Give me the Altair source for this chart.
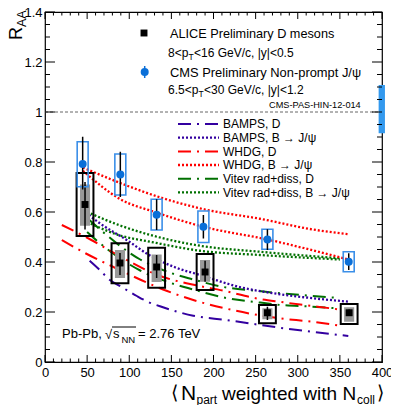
import altair as alt
import pandas as pd

FONT = "Liberation Sans"
W, H = 337, 350          # plot area in px
PX, PY = 45, 12          # page position of plot origin (for annotation placement)

# ---------------- data ----------------
x_ticks_major = [0, 50, 100, 150, 200, 250, 300, 350, 400]
y_ticks_major = [0, 0.2, 0.4, 0.6, 0.8, 1.0, 1.2, 1.4]

alice_n = [47.5, 89, 132.5, 190, 264, 361]
alice_r = [0.63, 0.396, 0.38, 0.36, 0.197, 0.197]
alice_stat_lo = [0.53, 0.348, 0.336, 0.321, 0.168, 0.185]
alice_stat_hi = [0.72, 0.436, 0.428, 0.405, 0.221, 0.21]
alice_sys_lo = [0.504, 0.315, 0.297, 0.288, 0.155, 0.152]
alice_sys_hi = [0.756, 0.475, 0.457, 0.432, 0.228, 0.232]
alice_fd_lo = [0.545, 0.336, 0.32, 0.321, 0.171, 0.161]
alice_fd_hi = [0.71, 0.448, 0.43, 0.408, 0.215, 0.219]

cms_n = [44.7, 89.4, 132.5, 188, 264, 360.5]
cms_r = [0.792, 0.75, 0.589, 0.541, 0.49, 0.401]
cms_stat_lo = [0.69, 0.66, 0.528, 0.494, 0.448, 0.368]
cms_stat_hi = [0.901, 0.841, 0.651, 0.588, 0.531, 0.435]
cms_sys_lo = [0.701, 0.668, 0.528, 0.478, 0.451, 0.361]
cms_sys_hi = [0.881, 0.832, 0.651, 0.604, 0.531, 0.441]
cms_global_lo, cms_global_hi = 0.915, 1.108

bamps_d_n = [53, 65, 77, 91, 109, 122, 140, 176, 215, 279, 310, 360]
bamps_d_r = [0.405, 0.368, 0.328, 0.300, 0.264, 0.241, 0.219, 0.185, 0.168, 0.137, 0.124, 0.104]
bamps_b_n = [52, 65, 97, 125, 155, 184, 231, 267, 300, 361]
bamps_b_r = [0.588, 0.555, 0.488, 0.425, 0.378, 0.348, 0.300, 0.277, 0.262, 0.241]
whdg_d_hi_n = [20, 55, 80, 140, 175, 215, 250, 280, 315, 350]
whdg_d_hi_r = [0.548, 0.488, 0.44, 0.34, 0.31, 0.283, 0.255, 0.24, 0.225, 0.21]
whdg_d_lo_n = [20, 48, 80, 145, 176, 212, 280, 315, 350]
whdg_d_lo_r = [0.488, 0.435, 0.382, 0.284, 0.248, 0.216, 0.174, 0.162, 0.145]
whdg_b_hi_n = [45, 90, 140, 190, 255, 318, 360]
whdg_b_hi_r = [0.778, 0.715, 0.655, 0.61, 0.573, 0.530, 0.511]
whdg_b_lo_n = [45, 89, 132, 188, 264, 360]
whdg_b_lo_r = [0.765, 0.652, 0.598, 0.541, 0.49, 0.41]
vitev_d_hi_n = [52, 62, 113, 146, 176, 212, 250, 280, 315, 345]
vitev_d_hi_r = [0.57, 0.54, 0.41, 0.36, 0.33, 0.30, 0.285, 0.275, 0.265, 0.257]
vitev_d_lo_n = [50, 60, 113, 146, 176, 212, 250, 280, 315, 345]
vitev_d_lo_r = [0.52, 0.49, 0.366, 0.32, 0.29, 0.258, 0.24, 0.228, 0.222, 0.215]
vitev_b_hi_n = [50, 90, 125, 184, 255, 350]
vitev_b_hi_r = [0.60, 0.545, 0.508, 0.465, 0.441, 0.415]
vitev_b_lo_n = [50, 90, 125, 184, 255, 350]
vitev_b_lo_r = [0.56, 0.505, 0.481, 0.445, 0.428, 0.41]

legend_labels = ["BAMPS, D", "BAMPS, B \u2192 J/\u03c8", "WHDG, D", "WHDG, B \u2192 J/\u03c8",
                 "Vitev rad+diss, D", "Vitev rad+diss, B \u2192 J/\u03c8"]

# ---------------- styles ----------------
INDIGO = "#3300a0"
RED = "#ff0000"
GREEN = "#007000"
CMS_BLUE = "#0a6fd8"
CMS_BOX = "#3b8fe8"
DASHDOT = [13, 6, 2, 6]
DOT = [2, 2]

xs = alt.Scale(domain=[0, 400], nice=False, zero=False)
ys = alt.Scale(domain=[0, 1.4], nice=False, zero=False)
XAX = alt.Axis(values=x_ticks_major, ticks=False, domain=False, grid=False, labelFont=FONT, labelFontSize=13,
               labelPadding=4, labelFlush=False, labelOverlap=False, labelColor="black", title=None)
YAX = alt.Axis(values=y_ticks_major, format="~g", ticks=False, domain=False, grid=False, labelFont=FONT,
               labelFontSize=13, labelPadding=3, labelFlush=False, labelOverlap=False, labelColor="black",
               title=None)
ONE = alt.Data(values=[{"a": 1}])


def X(f):
    return alt.X(f, scale=xs, axis=XAX)


def Y(f):
    return alt.Y(f, scale=ys, axis=YAX)


layers = []

# reference line at 1
ref = pd.DataFrame({"x": [0], "x2": [400], "y": [1.0]})
layers.append(alt.Chart(ref).mark_rule(color="#666666", strokeDash=[3, 2], strokeWidth=1).encode(
    x=X("x:Q"), x2="x2:Q", y=Y("y:Q")))


def curve(bands, color, dash, width):
    rows = []
    for b, (ns, rs) in enumerate(bands):
        for n, r in zip(ns, rs):
            rows.append({"band": b, "N": n, "R": r})
    return alt.Chart(pd.DataFrame(rows)).mark_line(
        color=color, strokeDash=dash, strokeWidth=width, interpolate="monotone"
    ).encode(x=X("N:Q"), y=Y("R:Q"), detail="band:N", order="N:Q")


layers += [
    curve([(vitev_b_hi_n, vitev_b_hi_r), (vitev_b_lo_n, vitev_b_lo_r)], GREEN, DOT, 2.3),
    curve([(vitev_d_hi_n, vitev_d_hi_r), (vitev_d_lo_n, vitev_d_lo_r)], GREEN, DASHDOT, 2),
    curve([(whdg_b_hi_n, whdg_b_hi_r), (whdg_b_lo_n, whdg_b_lo_r)], RED, DOT, 2.3),
    curve([(whdg_d_hi_n, whdg_d_hi_r), (whdg_d_lo_n, whdg_d_lo_r)], RED, DASHDOT, 2),
    curve([(bamps_b_n, bamps_b_r)], INDIGO, DOT, 2.3),
    curve([(bamps_d_n, bamps_d_r)], INDIGO, DASHDOT, 2),
]

# ALICE
adf = pd.DataFrame({"N": alice_n, "R": alice_r, "slo": alice_stat_lo, "shi": alice_stat_hi,
                    "ylo": alice_sys_lo, "yhi": alice_sys_hi, "flo": alice_fd_lo, "fhi": alice_fd_hi})
adf["xl"] = adf["N"] - 10
adf["xr"] = adf["N"] + 10
adf["gl"] = adf["N"] - 6
adf["gr"] = adf["N"] + 6
layers.append(alt.Chart(adf).mark_rect(color="#999999").encode(
    x=X("gl:Q"), x2="gr:Q", y=Y("flo:Q"), y2="fhi:Q"))
layers.append(alt.Chart(adf).mark_rect(fillOpacity=0, stroke="black", strokeWidth=2).encode(
    x=X("xl:Q"), x2="xr:Q", y=Y("ylo:Q"), y2="yhi:Q"))
layers.append(alt.Chart(adf).mark_rule(color="black", strokeWidth=1.5).encode(
    x=X("N:Q"), y=Y("slo:Q"), y2="shi:Q"))
layers.append(alt.Chart(adf).mark_point(shape="square", filled=True, color="black", size=48, opacity=1).encode(
    x=X("N:Q"), y=Y("R:Q")))

# CMS
cdf = pd.DataFrame({"N": cms_n, "R": cms_r, "slo": cms_stat_lo, "shi": cms_stat_hi,
                    "ylo": cms_sys_lo, "yhi": cms_sys_hi})
cdf["xl"] = cdf["N"] - 6.5
cdf["xr"] = cdf["N"] + 6.5
layers.append(alt.Chart(cdf).mark_rect(fillOpacity=0, stroke=CMS_BOX, strokeWidth=1.6).encode(
    x=X("xl:Q"), x2="xr:Q", y=Y("ylo:Q"), y2="yhi:Q"))
layers.append(alt.Chart(cdf).mark_rule(color="black", strokeWidth=1.5).encode(
    x=X("N:Q"), y=Y("slo:Q"), y2="shi:Q"))
layers.append(alt.Chart(cdf).mark_point(shape="circle", filled=True, color=CMS_BLUE, size=64, opacity=1).encode(
    x=X("N:Q"), y=Y("R:Q")))

# CMS global uncertainty box at the right edge
gdf = pd.DataFrame({"x": [396], "x2": [403.5], "y": [cms_global_lo], "y2": [cms_global_hi]})
layers.append(alt.Chart(gdf).mark_rect(color="#3399ee").encode(
    x=X("x:Q"), x2="x2:Q", y=Y("y:Q"), y2="y2:Q"))

# ---------------- ROOT-style inward ticks ----------------
y_minor = [round(i * 0.05, 2) for i in range(29) if i % 4]
x_minor = [v for v in range(0, 401, 10) if v % 50]


def yticks(vals, ln):
    df = pd.DataFrame({"v": vals})
    return [
        alt.Chart(df).mark_rule(color="black", strokeWidth=1).encode(x=alt.value(0), x2=alt.value(ln), y=Y("v:Q")),
        alt.Chart(df).mark_rule(color="black", strokeWidth=1).encode(x=alt.value(W - ln), x2=alt.value(W), y=Y("v:Q")),
    ]


def xticks(vals, ln):
    df = pd.DataFrame({"v": vals})
    return [
        alt.Chart(df).mark_rule(color="black", strokeWidth=1).encode(y=alt.value(H - ln), y2=alt.value(H), x=X("v:Q")),
        alt.Chart(df).mark_rule(color="black", strokeWidth=1).encode(y=alt.value(0), y2=alt.value(ln), x=X("v:Q")),
    ]


layers += yticks(y_ticks_major, 10) + yticks(y_minor, 5) + xticks(x_ticks_major, 7) + xticks(x_minor, 3.5)


# ---------------- annotations ----------------
def txt(s, x, y, size, **kw):
    return alt.Chart(ONE).mark_text(text=s, align="left", baseline="alphabetic", font=FONT,
                                    fontSize=size, color="black", **kw).encode(
        x=alt.value(x - PX), y=alt.value(y - PY))


# top legend
layers.append(alt.Chart(ONE).mark_point(shape="square", filled=True, color="black", size=48, opacity=1).encode(
    x=alt.value(144 - PX), y=alt.value(33 - PY)))
layers.append(txt("ALICE Preliminary D mesons", 170, 37.5, 12.7))
layers.append(txt("8<p", 168, 56.5, 12))
layers.append(txt("T", 188.5, 60, 8.5))
layers.append(txt("<16 GeV/c, |y|<0.5", 194, 56.5, 12))
layers.append(alt.Chart(ONE).mark_rule(color=CMS_BLUE, strokeWidth=1.5).encode(
    x=alt.value(144.7 - PX), y=alt.value(66 - PY), y2=alt.value(78 - PY)))
layers.append(alt.Chart(ONE).mark_point(shape="circle", filled=True, color=CMS_BLUE, size=64, opacity=1).encode(
    x=alt.value(144.7 - PX), y=alt.value(72 - PY)))
layers.append(txt("CMS Preliminary Non-prompt J/\u03c8", 170, 76.5, 12.9))
layers.append(txt("6.5<p", 168, 93.5, 12))
layers.append(txt("T", 198.5, 97, 8.5))
layers.append(txt("<30 GeV/c, |y|<1.2", 204, 93.5, 12))
layers.append(txt("CMS-PAS-HIN-12-014", 269, 108, 9.2))

# theory legend
styles = [(INDIGO, DASHDOT, 2), (INDIGO, DOT, 2.3), (RED, DASHDOT, 2), (RED, DOT, 2.3),
          (GREEN, DASHDOT, 2), (GREEN, DOT, 2.3)]
row_y = [124, 137.7, 151.4, 165, 178.7, 192.3]
for lab, (col, dash, wd), cy in zip(legend_labels, styles, row_y):
    layers.append(alt.Chart(ONE).mark_rule(color=col, strokeDash=dash, strokeWidth=wd).encode(
        x=alt.value(178 - PX), x2=alt.value(219 - PX), y=alt.value(cy - PY)))
    layers.append(txt(lab, 223, cy + 4.4, 12))

# collision system text
layers.append(txt("Pb-Pb,", 62, 338, 13))
layers.append(txt("\u221a", 105, 339, 13))
layers.append(alt.Chart(ONE).mark_rule(color="black", strokeWidth=1).encode(
    x=alt.value(112 - PX), x2=alt.value(136 - PX), y=alt.value(327 - PY)))
layers.append(txt("s", 113, 338, 13))
layers.append(txt("NN", 121.5, 342.5, 9.5))
layers.append(txt("= 2.76 TeV", 138, 338, 13))

# axis titles
layers.append(alt.Chart(ONE).mark_text(text="R", align="left", baseline="alphabetic", font=FONT, fontSize=18,
                                       angle=270, color="black").encode(x=alt.value(21.5 - PX), y=alt.value(40 - PY)))
layers.append(alt.Chart(ONE).mark_text(text="AA", align="left", baseline="alphabetic", font=FONT, fontSize=12.5,
                                       angle=270, color="black").encode(x=alt.value(26 - PX), y=alt.value(27 - PY)))
layers.append(txt("\u27e8", 171, 399, 19))
layers.append(txt("N", 181, 400, 21))
layers.append(txt("part", 196.5, 403.5, 12))
layers.append(txt("weighted with N", 222, 400, 19))
layers.append(txt("coll", 357, 404, 12))
layers.append(txt("\u27e9", 377, 399, 19))

chart = alt.layer(*layers).properties(
    width=W, height=H,
    autosize=alt.AutoSizeParams(type="none"),
    padding={"left": 37, "top": 4, "right": 9, "bottom": 43},
).configure_view(stroke="black", strokeWidth=1.2)

chart.save("out.html", embed_options={"renderer": "svg", "actions": False})
